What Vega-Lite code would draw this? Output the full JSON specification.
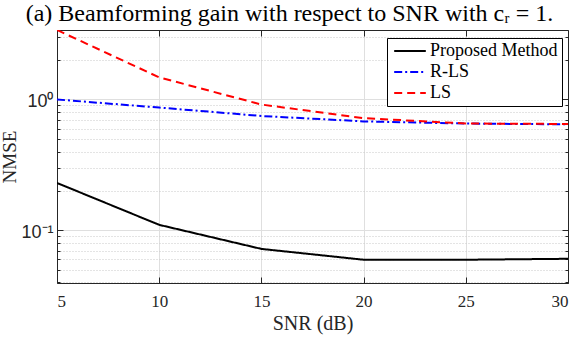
{
  "$schema": "https://vega.github.io/schema/vega-lite/v6.json",
  "width": 511,
  "height": 253,
  "autosize": {"type": "none"},
  "padding": {"left": 57, "top": 30, "right": 11, "bottom": 56},
  "background": "white",
  "title": {
    "text": "(a) Beamforming gain with respect to SNR with cᵣ = 1.",
    "font": "Liberation Serif, Times New Roman, serif",
    "fontSize": 24,
    "fontWeight": "normal",
    "color": "black",
    "anchor": "middle",
    "frame": "group",
    "dx": -23,
    "offset": 1
  },
  "config": {"view": {"stroke": null}},
  "data": {
    "values": [
      {"snr": 5, "nmse": 0.23, "method": "Proposed Method"},
      {"snr": 10, "nmse": 0.11, "method": "Proposed Method"},
      {"snr": 15, "nmse": 0.072, "method": "Proposed Method"},
      {"snr": 20, "nmse": 0.0595, "method": "Proposed Method"},
      {"snr": 25, "nmse": 0.0595, "method": "Proposed Method"},
      {"snr": 30, "nmse": 0.0605, "method": "Proposed Method"},
      {"snr": 5, "nmse": 1.0, "method": "R-LS"},
      {"snr": 10, "nmse": 0.868, "method": "R-LS"},
      {"snr": 15, "nmse": 0.748, "method": "R-LS"},
      {"snr": 20, "nmse": 0.68, "method": "R-LS"},
      {"snr": 25, "nmse": 0.655, "method": "R-LS"},
      {"snr": 30, "nmse": 0.645, "method": "R-LS"},
      {"snr": 5, "nmse": 3.4, "method": "LS"},
      {"snr": 10, "nmse": 1.476, "method": "LS"},
      {"snr": 15, "nmse": 0.915, "method": "LS"},
      {"snr": 20, "nmse": 0.72, "method": "LS"},
      {"snr": 25, "nmse": 0.655, "method": "LS"},
      {"snr": 30, "nmse": 0.65, "method": "LS"}
    ]
  },
  "layer": [
    {
      "mark": {"type": "line", "strokeWidth": 2, "clip": true},
      "encoding": {
        "x": {
          "field": "snr",
          "type": "quantitative",
          "scale": {"domain": [5, 30], "nice": false, "zero": false},
          "axis": {
            "values": [5, 10, 15, 20, 25, 30],
            "grid": true,
            "gridColor": "#dfdfdf",
            "domainColor": "#262626",
            "tickColor": "#262626",
            "tickSize": -6,
            "labelPadding": 16,
            "labelFont": "Liberation Serif, Times New Roman, serif",
            "labelFontSize": 17,
            "labelColor": "#262626",
            "title": "SNR (dB)",
            "titleFont": "Liberation Serif, Times New Roman, serif",
            "titleFontSize": 20,
            "titleFontWeight": "normal",
            "titleColor": "#262626",
            "titlePadding": 4
          }
        },
        "y": {
          "field": "nmse",
          "type": "quantitative",
          "scale": {"type": "log", "domain": [0.0395, 3.4], "nice": false},
          "axis": {
            "values": [0.04, 0.05, 0.06, 0.07, 0.08, 0.09, 0.1, 0.2, 0.3, 0.4, 0.5, 0.6, 0.7, 0.8, 0.9, 1, 2, 3],
            "labelExpr": "datum.value == 1 ? '10⁰' : (datum.value == 0.1 ? '10⁻¹' : '')",
            "grid": true,
            "gridColor": {"condition": {"test": "datum.value == 1 || datum.value == 0.1", "value": "#dfdfdf"}, "value": "#c8c8c8"},
            "gridDash": {"condition": {"test": "datum.value == 1 || datum.value == 0.1", "value": []}, "value": [1, 2]},
            "domainColor": "#262626",
            "tickColor": "#262626",
            "tickSize": {"condition": {"test": "datum.value == 1 || datum.value == 0.1", "value": -6}, "value": -3},
            "labelPadding": 10,
            "labelOffset": 2,
            "labelFont": "Liberation Sans, Arial, sans-serif",
            "labelFontSize": 18,
            "labelColor": "#262626",
            "title": "NMSE",
            "titleFont": "Liberation Serif, Times New Roman, serif",
            "titleFontSize": 19,
            "titleFontWeight": "normal",
            "titleColor": "#262626",
            "titlePadding": 1
          }
        },
        "color": {
          "field": "method",
          "type": "nominal",
          "scale": {"domain": ["Proposed Method", "R-LS", "LS"], "range": ["#000000", "#0000ff", "#ff0000"]},
          "legend": {
            "title": null,
            "orient": "none",
            "legendX": 330,
            "legendY": 8,
            "symbolType": "M-2,0H2",
            "symbolStrokeWidth": 2,
            "symbolSize": 250,
            "symbolOffset": 10,
            "labelFont": "Liberation Serif, Times New Roman, serif",
            "labelFontSize": 18,
            "labelColor": "black",
            "strokeColor": "black",
            "fillColor": "white",
            "padding": 4,
            "rowPadding": 3,
            "labelOffset": 11
          }
        },
        "strokeDash": {
          "field": "method",
          "type": "nominal",
          "scale": {"domain": ["Proposed Method", "R-LS", "LS"], "range": [[1, 0], [8, 3, 2, 3], [8, 5]]},
          "legend": {
            "title": null,
            "orient": "none",
            "legendX": 330,
            "legendY": 8,
            "symbolType": "M-2,0H2",
            "symbolStrokeWidth": 2,
            "symbolSize": 250,
            "symbolOffset": 10,
            "labelFont": "Liberation Serif, Times New Roman, serif",
            "labelFontSize": 18,
            "labelColor": "black",
            "strokeColor": "black",
            "fillColor": "white",
            "padding": 4,
            "rowPadding": 3,
            "labelOffset": 11
          }
        }
      }
    },
    {
      "mark": {"type": "point", "opacity": 0},
      "encoding": {
        "x": {
          "field": "snr",
          "type": "quantitative",
          "axis": {
            "orient": "top",
            "values": [5, 10, 15, 20, 25, 30],
            "labels": false,
            "grid": false,
            "domainColor": "#262626",
            "tickColor": "#262626",
            "tickSize": -6,
            "title": null
          }
        },
        "y": {
          "field": "nmse",
          "type": "quantitative",
          "axis": {
            "orient": "right",
            "values": [0.04, 0.05, 0.06, 0.07, 0.08, 0.09, 0.1, 0.2, 0.3, 0.4, 0.5, 0.6, 0.7, 0.8, 0.9, 1, 2, 3],
            "labels": false,
            "grid": false,
            "domainColor": "#262626",
            "tickColor": "#262626",
            "tickSize": {"condition": {"test": "datum.value == 1 || datum.value == 0.1", "value": -6}, "value": -3},
            "title": null
          }
        }
      }
    }
  ],
  "resolve": {"axis": {"x": "independent", "y": "independent"}}
}
